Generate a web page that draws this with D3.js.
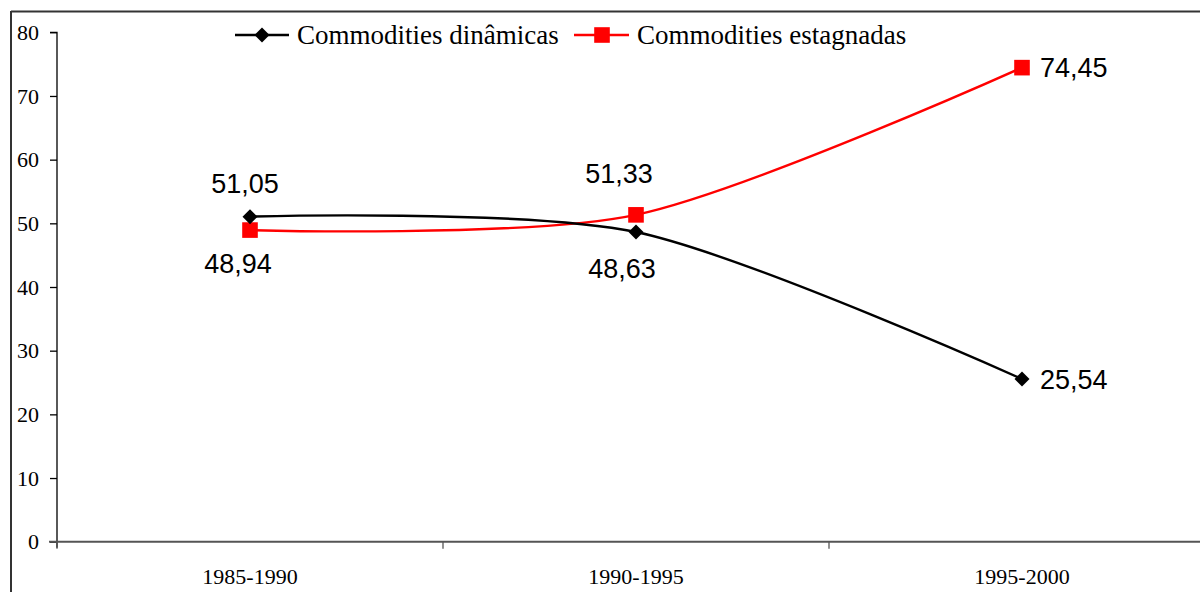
<!DOCTYPE html>
<html>
<head>
<meta charset="utf-8">
<script src="https://cdn.jsdelivr.net/npm/d3@7/dist/d3.min.js"></script>
<style>
  html, body { margin: 0; padding: 0; background: #fff; }
  svg { display: block; }
</style>
</head>
<body>
<svg id="chart" width="1200" height="592"></svg>
<script>
// Periods and shares (%) for each commodity group
const periods = ["1985-1990", "1990-1995", "1995-2000"];
const dinamicas = [51.05, 48.63, 25.54];
const estagnadas = [48.94, 51.33, 74.45];
const yTicks = [0, 10, 20, 30, 40, 50, 60, 70, 80];
const seriesNames = ["Commodities dinâmicas", "Commodities estagnadas"];

(function () {
const svg = d3.select("#chart");
const W = 1200, H = 592;

// Plot area (extends a little past the right edge of the canvas)
const plotLeft = 57, plotRight = 1215, plotTop = 32.3, plotBottom = 541.7;

const x = d3.scaleBand().domain(periods).range([plotLeft, plotRight]);
const y = d3.scaleLinear().domain([0, 80]).range([plotBottom, plotTop]);
const cx = p => x(p) + x.bandwidth() / 2;

const fmt = v => d3.format(".2f")(v).replace(".", ",");
const serif = "'Liberation Serif', 'Times New Roman', serif";

// Outer frame (top and left edges)
svg.append("line").attr("x1", 11).attr("x2", W).attr("y1", 11.5).attr("y2", 11.5)
  .attr("stroke", "#333").attr("stroke-width", 2);
svg.append("line").attr("x1", 11).attr("x2", 11).attr("y1", 11).attr("y2", H)
  .attr("stroke", "#333").attr("stroke-width", 2);

// Y axis
const yAxis = d3.axisLeft(y).tickValues(yTicks).tickSize(7).tickPadding(11)
  .tickFormat(d3.format("d"));
const gy = svg.append("g").attr("transform", `translate(${plotLeft},0)`).call(yAxis);
gy.select(".domain").attr("stroke", "#000").attr("stroke-width", 1.3)
  .attr("d", `M-7,${plotTop}H0V${plotBottom + 6}`);
gy.selectAll(".tick line").attr("stroke", "#000").attr("stroke-width", 1.3);
gy.selectAll(".tick text").attr("font-family", serif)
  .attr("font-size", 22).attr("fill", "#000");

// X axis
const xAxis = d3.axisBottom(x).tickSize(0).tickPadding(27);
const gx = svg.append("g").attr("transform", `translate(0,${plotBottom})`).call(xAxis);
gx.select(".domain").attr("stroke", "#555").attr("stroke-width", 2)
  .attr("d", `M${plotLeft - 8},0H${plotRight}`);
gx.selectAll(".tick text").attr("font-family", serif)
  .attr("font-size", 22).attr("fill", "#000");
// category boundary ticks
const bounds = periods.map(p => x(p)).concat([plotRight]);
svg.append("g").selectAll("line").data(bounds).join("line")
  .attr("x1", d => d).attr("x2", d => d)
  .attr("y1", plotBottom).attr("y2", plotBottom + 7)
  .attr("stroke", "#555").attr("stroke-width", 1.3);

// Smoothed series lines
const line = d3.line().x((d, i) => cx(periods[i])).y(d => y(d))
  .curve(d3.curveCardinal.tension(0.15));

svg.append("path").datum(estagnadas).attr("d", line)
  .attr("fill", "none").attr("stroke", "#ff0000").attr("stroke-width", 2.4);
svg.append("path").datum(dinamicas).attr("d", line)
  .attr("fill", "none").attr("stroke", "#000").attr("stroke-width", 2.4);

function drawDiamond(g, px, py, s) {
  g.append("path")
    .attr("d", `M${px},${py - s}L${px + s},${py}L${px},${py + s}L${px - s},${py}Z`)
    .attr("fill", "#000");
}
function drawSquare(g, px, py, s, color) {
  g.append("rect").attr("x", px - s).attr("y", py - s)
    .attr("width", 2 * s).attr("height", 2 * s).attr("fill", color);
}

const marks = svg.append("g");
estagnadas.forEach((v, i) => drawSquare(marks, cx(periods[i]), y(v), 7.8, "#ff0000"));
dinamicas.forEach((v, i) => drawDiamond(marks, cx(periods[i]), y(v), 7.5));

// Value labels: offset from each marker
const dinOffsets = [[-5, -33, "middle"], [-14, 36, "middle"], [18, 0, "start"]];
const estOffsets = [[-12, 33, "middle"], [-17, -42, "middle"], [18, 0, "start"]];
const labels = svg.append("g")
  .attr("font-family", "Arial, 'Liberation Sans', sans-serif")
  .attr("font-size", 27).attr("fill", "#000");
function addLabels(vals, offs) {
  vals.forEach((v, i) => {
    labels.append("text")
      .attr("x", cx(periods[i]) + offs[i][0])
      .attr("y", y(v) + offs[i][1])
      .attr("dy", "0.36em")
      .attr("text-anchor", offs[i][2])
      .text(fmt(v));
  });
}
addLabels(dinamicas, dinOffsets);
addLabels(estagnadas, estOffsets);

// Legend
const legend = svg.append("g")
  .attr("font-family", serif)
  .attr("font-size", 27).attr("fill", "#000");
const ly = 35;
legend.append("line").attr("x1", 235).attr("x2", 289).attr("y1", ly).attr("y2", ly)
  .attr("stroke", "#000").attr("stroke-width", 2.4);
drawDiamond(legend, 262, ly, 7.5);
legend.append("text").attr("x", 297).attr("y", ly).attr("dy", "0.33em").text(seriesNames[0]);
legend.append("line").attr("x1", 574).attr("x2", 629).attr("y1", ly).attr("y2", ly)
  .attr("stroke", "#ff0000").attr("stroke-width", 2.4);
drawSquare(legend, 602, ly, 7.8, "#ff0000");
legend.append("text").attr("x", 637).attr("y", ly).attr("dy", "0.33em").text(seriesNames[1]);
})();
</script>
</body>
</html>
